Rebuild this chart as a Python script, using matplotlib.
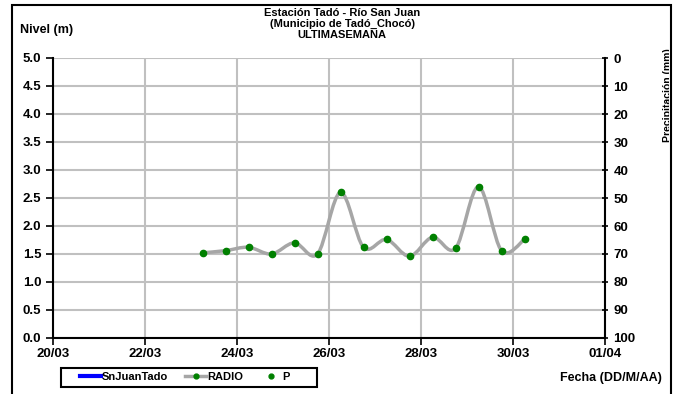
import matplotlib
matplotlib.use("Agg")
import matplotlib.pyplot as plt
import matplotlib.dates as mdates
from matplotlib.path import Path
from matplotlib.patches import PathPatch, Rectangle
from matplotlib.lines import Line2D
from matplotlib.transforms import Bbox
from datetime import datetime, timedelta

plt.rcParams["font.family"] = ["Liberation Sans", "DejaVu Sans"]
plt.rcParams["font.weight"] = "bold"

# Data: river level every 12 hours (RADIO station)
start = datetime(2023, 3, 23, 6)
nivel = [1.52, 1.56, 1.62, 1.50, 1.70, 1.50, 2.60, 1.62,
         1.76, 1.46, 1.80, 1.60, 2.70, 1.56, 1.76]
fechas = [start + timedelta(hours=12 * i) for i in range(len(nivel))]

x_ticks = [datetime(2023, 3, 20) + timedelta(days=2 * i) for i in range(7)]
y_ticks = [0.5 * i for i in range(11)]
precip_ticks = list(range(0, 101, 10))

W, H = 677, 394
fig = plt.figure(figsize=(W / 100, H / 100), dpi=100)

# outer frame
fig.patches.append(Rectangle((12 / W, -0.05), (671 - 12) / W, 1.05 - 5 / H,
                             transform=fig.transFigure, fill=False,
                             edgecolor="black", linewidth=1.5))

ax = fig.add_axes([53 / W, 1 - 338 / H, 552 / W, 280 / H])
ax.set_xlim(x_ticks[0], x_ticks[-1])
ax.set_ylim(0, 5)
ax.set_yticks(y_ticks)
ax.set_yticklabels([f"{v:.1f}" for v in y_ticks])
ax.set_xticks(x_ticks)
ax.xaxis.set_major_formatter(mdates.DateFormatter("%d/%m"))
ax.grid(True, color="#c0c0c0", linewidth=1.5)
ax.set_axisbelow(True)
for s in ["top", "right"]:
    ax.spines[s].set_visible(False)
for s in ["left", "bottom"]:
    ax.spines[s].set_linewidth(1.5)
ax.tick_params(axis="both", labelsize=9.5, width=1.2, length=5)
ax.tick_params(axis="x", pad=2)

# smoothed line (Excel-style bezier)
xs = mdates.date2num(fechas)
pts = list(zip(xs, nivel))
verts = [pts[0]]
codes = [Path.MOVETO]
n = len(pts)
for i in range(n - 1):
    p0 = pts[i - 1] if i > 0 else pts[i]
    p1 = pts[i]
    p2 = pts[i + 1]
    p3 = pts[i + 2] if i + 2 < n else pts[i + 1]
    c1 = (p1[0] + (p2[0] - p0[0]) / 6, p1[1] + (p2[1] - p0[1]) / 6)
    c2 = (p2[0] - (p3[0] - p1[0]) / 6, p2[1] - (p3[1] - p1[1]) / 6)
    verts += [c1, c2, p2]
    codes += [Path.CURVE4] * 3
ax.add_patch(PathPatch(Path(verts, codes), fill=False, edgecolor="#a6a6a6",
                       linewidth=2.5, zorder=3))
ax.plot(fechas, nivel, linestyle="none", marker="o", markersize=4.5,
        color="#008000", zorder=4)

# right axis (precipitation)
ax2 = ax.twinx()
ax2.set_ylim(100, 0)
ax2.set_yticks(precip_ticks)
for s in ["top", "left", "bottom"]:
    ax2.spines[s].set_visible(False)
ax2.spines["right"].set_linewidth(1.5)
ax2.tick_params(axis="y", labelsize=9.5, width=1.2, length=5, direction="inout")

# texts
fig.text(342 / W, 1 - 13 / H, "Estación Tadó - Río San Juan", ha="center", va="center",
         fontsize=8, fontweight="bold")
fig.text(342 / W, 1 - 24 / H, "(Municipio de Tadó_Chocó)", ha="center", va="center",
         fontsize=8, fontweight="bold")
fig.text(342 / W, 1 - 35 / H, "ULTIMASEMANA", ha="center", va="center",
         fontsize=8, fontweight="bold")
fig.text(20 / W, 1 - 30 / H, "Nivel (m)", ha="left", va="center",
         fontsize=9, fontweight="bold")
fig.text(662 / W, 1 - 378 / H, "Fecha (DD/M/AA)", ha="right", va="center",
         fontsize=9, fontweight="bold")
t = fig.text(663 / W, 1 - 48 / H, "Precipitación (mm)", ha="left", va="top",
             rotation=90, fontsize=7.5, fontweight="bold")
t.set_clip_box(Bbox.from_extents(0, 0, 669, H))
t.set_clip_on(True)

# legend
handles = [
    Line2D([], [], color="blue", linewidth=3),
    Line2D([], [], color="#a6a6a6", linewidth=2.5, marker="o",
           markersize=3.5, markerfacecolor="#008000", markeredgecolor="#008000"),
    Line2D([], [], linestyle="none", marker="o", markersize=3.5, color="#008000"),
]
leg = fig.legend(handles, ["SnJuanTado", "RADIO", "P"], ncol=3,
                 loc="center left", bbox_to_anchor=(80 / W, 1 - 377 / H),
                 fontsize=8, frameon=False, handlelength=1.9,
                 handletextpad=0.1, columnspacing=1.5, borderpad=0,
                 borderaxespad=0)
fig.patches.append(Rectangle((61 / W, 1 - 387 / H), 256 / W, 19 / H,
                             transform=fig.transFigure, fill=False,
                             edgecolor="black", linewidth=1.5))

fig.savefig("out.png", dpi=100)
